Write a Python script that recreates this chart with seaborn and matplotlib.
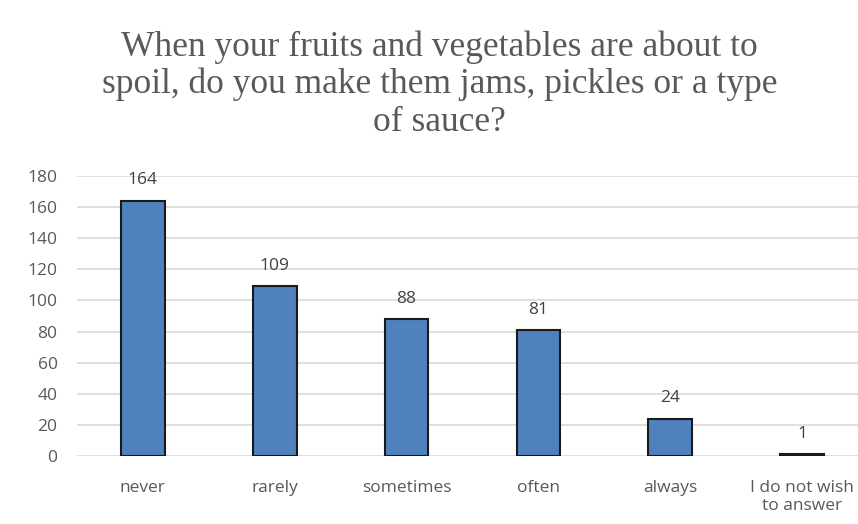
import matplotlib
matplotlib.use("Agg")
import matplotlib.pyplot as plt
import seaborn as sns
import pandas as pd

categories = ["never", "rarely", "sometimes", "often", "always", "I do not wish\nto answer"]
counts = [164, 109, 88, 81, 24, 1]
yticks = [0, 20, 40, 60, 80, 100, 120, 140, 160, 180]
title = "When your fruits and vegetables are about to\nspoil, do you make them jams, pickles or a type\nof sauce?"

df = pd.DataFrame({"answer": categories, "count": counts})

sns.set_theme(style="white")
plt.rcParams["font.family"] = ["Open Sans", "DejaVu Sans"]

W, H = 858, 524
fig = plt.figure(figsize=(W / 100, H / 100), dpi=100)
left, right, bottom, top = 77, 868, 456, 176
ax = fig.add_axes([left / W, 1 - bottom / H, (right - left) / W, (bottom - top) / H])

sns.barplot(data=df, x="answer", y="count", ax=ax, color="#4F81BD",
            edgecolor="#1a1a1a", linewidth=1.5, width=0.33, saturation=1, zorder=3)

ax.set_ylim(0, 180)
ax.set_xlim(-0.5, len(categories) - 0.5)
ax.set_yticks(yticks)
ax.yaxis.grid(True, color="#d9d9d9", linewidth=1.2, zorder=0)
ax.set_axisbelow(True)
for s in ax.spines.values():
    s.set_visible(False)
ax.set_xlabel("")
ax.set_ylabel("")
ax.tick_params(axis="y", length=0, pad=14, labelsize=12.5, labelcolor="#595959")
ax.tick_params(axis="x", length=0, pad=17, labelsize=12.5, labelcolor="#595959")

for c in ax.containers:
    ax.bar_label(c, labels=[str(v) for v in counts], padding=9, fontsize=12.5, color="#404040")

fig.text(0.512, 1 - 30 / H, title, ha="center", va="top", fontsize=25.5,
         family="Liberation Serif", color="#595959", linespacing=1.17)

fig.savefig("out.png", dpi=100)
